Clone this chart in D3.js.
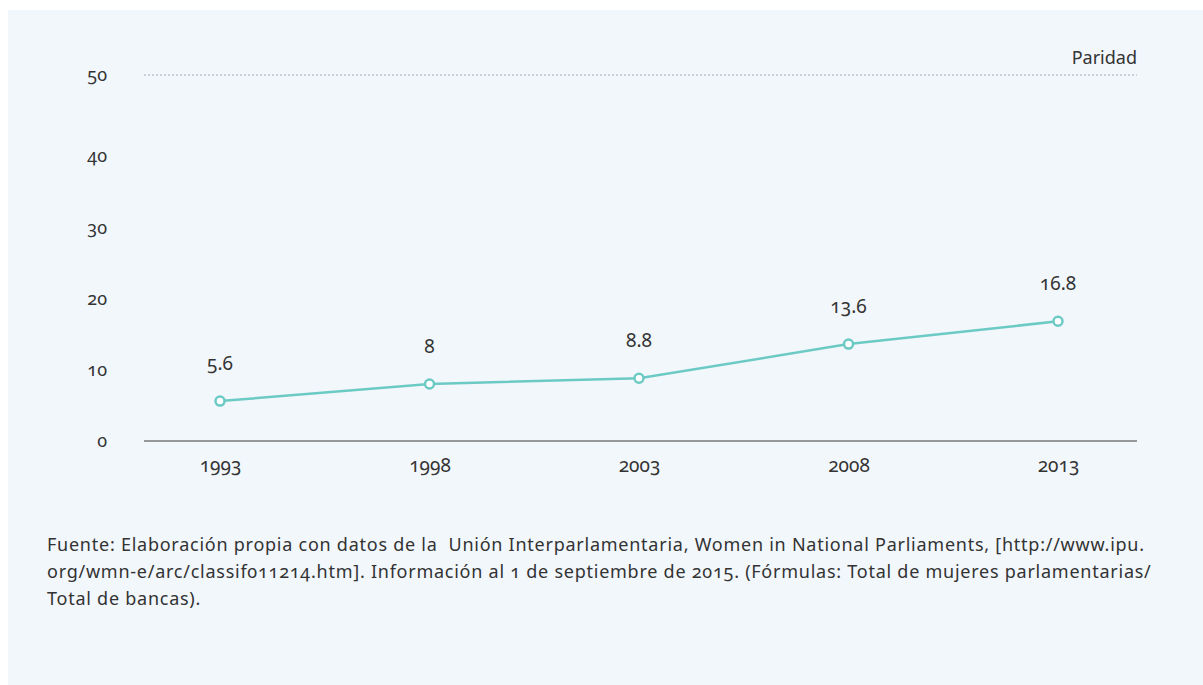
<!DOCTYPE html>
<html>
<head>
<meta charset="utf-8">
<script src="https://cdn.jsdelivr.net/npm/d3@7"></script>
<style>
  html, body { margin: 0; padding: 0; background: #ffffff; }
  svg { display: block; }
  text { font-family: "Noto Sans", "Open Sans", sans-serif; fill: #333333; font-variant-numeric: oldstyle-nums; }
</style>
</head>
<body>
<svg id="chart" width="1203" height="685"></svg>
<script>
const years = ["1993", "1998", "2003", "2008", "2013"];
const values = [5.6, 8, 8.8, 13.6, 16.8];
const valueLabels = ["5.6", "8", "8.8", "13.6", "16.8"];
const yTicks = [0, 10, 20, 30, 40, 50];
const parityValue = 50;
const parityLabel = "Paridad";
const footnoteLines = [
  "Fuente: Elaboración propia con datos de la  Unión Interparlamentaria, Women in National Parliaments, [http://www.ipu.",
  "org/wmn-e/arc/classif011214.htm]. Información al 1 de septiembre de 2015. (Fórmulas: Total de mujeres parlamentarias/",
  "Total de bancas)."
];

const svg = d3.select("#chart");
svg.append("rect").attr("x", 8).attr("y", 10).attr("width", 1195).attr("height", 675).attr("fill", "#f2f7fc");

const x = d3.scalePoint().domain(years).range([220, 1058]);
const y = d3.scaleLinear().domain([0, 40, 50]).range([441, 156, 75]);
const xLeft = 144, xRight = 1137;

// y tick labels
const yAxis = d3.axisLeft(y).tickValues(yTicks).tickSize(0).tickPadding(0).tickFormat(d3.format("d"));
const gy = svg.append("g").attr("transform", "translate(107,0)").call(yAxis);
gy.select(".domain").remove();
gy.selectAll("text").attr("font-size", 18).attr("fill", "#333").style("font-family", "'Noto Sans', sans-serif");

// parity dotted line
svg.append("line").attr("x1", xLeft).attr("x2", xRight).attr("y1", y(parityValue)).attr("y2", y(parityValue))
  .attr("stroke", "#a9aeb3").attr("stroke-width", 1).attr("stroke-dasharray", "2,2");
svg.append("text").attr("x", xRight).attr("y", y(parityValue) - 11).attr("text-anchor", "end")
  .attr("font-size", 18).text(parityLabel);

// x axis
const xAxis = d3.axisBottom(x).tickSize(0).tickPadding(18);
const gx = svg.append("g").attr("transform", `translate(0,${y(0)})`).call(xAxis);
gx.select(".domain").remove();
gx.selectAll("text").attr("font-size", 19).attr("fill", "#333").style("font-family", "'Noto Sans', sans-serif");
svg.append("line").attr("x1", xLeft).attr("x2", xRight).attr("y1", y(0)).attr("y2", y(0))
  .attr("stroke", "#7a7a7a").attr("stroke-width", 1.5);

// line
const data = years.map((yr, i) => ({ yr, v: values[i], label: valueLabels[i] }));
const line = d3.line().x(d => x(d.yr)).y(d => y(d.v));
svg.append("path").datum(data).attr("d", line).attr("fill", "none")
  .attr("stroke", "#6ccac4").attr("stroke-width", 2.5);
svg.selectAll("circle.pt").data(data).join("circle").attr("class", "pt")
  .attr("cx", d => x(d.yr)).attr("cy", d => y(d.v)).attr("r", 4.5)
  .attr("fill", "#ffffff").attr("stroke", "#6ccac4").attr("stroke-width", 2.5);
svg.selectAll("text.vl").data(data).join("text").attr("class", "vl")
  .attr("x", d => x(d.yr)).attr("y", d => y(d.v) - 31).attr("text-anchor", "middle")
  .attr("font-size", 19).text(d => d.label);

// footnote
const fn = svg.append("text").attr("x", 47).attr("y", 551).attr("font-size", 18)
  .attr("letter-spacing", 0.75).style("white-space", "pre");
footnoteLines.forEach((t, i) => {
  fn.append("tspan").attr("x", 47).attr("y", 551 + i * 27).text(t);
});
</script>
</body>
</html>
